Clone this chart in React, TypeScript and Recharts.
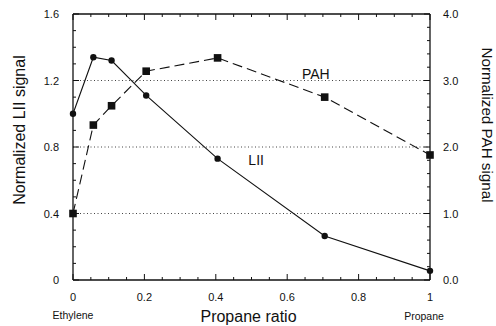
// @ts-nocheck
import { LineChart, Line, XAxis, YAxis, ReferenceLine, ReferenceDot, Label } from "recharts";

// propane fraction in the ethylene/propane fuel mix
const propaneRatio = [0, 0.057, 0.108, 0.205, 0.405, 0.705, 1];
const liiSignal = [1.0, 1.34, 1.32, 1.11, 0.73, 0.265, 0.055];
const pahSignal = [1.0, 2.33, 2.62, 3.14, 3.34, 2.75, 1.88];

const xMajor = [0, 0.2, 0.4, 0.6, 0.8, 1];
const xTicks = [0, 0.05, 0.1, 0.15, 0.2, 0.25, 0.3, 0.35, 0.4, 0.45, 0.5, 0.55, 0.6, 0.65, 0.7, 0.75, 0.8, 0.85, 0.9, 0.95, 1];
const liiMajor = [0, 0.4, 0.8, 1.2, 1.6];
const liiTicks = [0, 0.1, 0.2, 0.3, 0.4, 0.5, 0.6, 0.7, 0.8, 0.9, 1.0, 1.1, 1.2, 1.3, 1.4, 1.5, 1.6];
const pahMajor = [0, 1, 2, 3, 4];
const pahTicks = [0, 0.2, 0.4, 0.6, 0.8, 1, 1.2, 1.4, 1.6, 1.8, 2, 2.2, 2.4, 2.6, 2.8, 3, 3.2, 3.4, 3.6, 3.8, 4];
const gridLevels = [0.4, 0.8, 1.2];

const data = propaneRatio.map((x, i) => ({ x, lii: liiSignal[i], pah: pahSignal[i] }));

const INK = "#111";
const isIn = (arr, v) => arr.some((a) => Math.abs(a - v) < 1e-6);

const BottomTick = ({ x, y, payload }) => {
  const v = payload.value;
  const major = isIn(xMajor, v);
  const txt = v === 0 ? "0" : v === 1 ? "1" : v.toFixed(1);
  return (
    <g>
      <line x1={x} x2={x} y1={y} y2={y - (major ? 6 : 3)} stroke={INK} />
      {major && (
        <text x={x} y={y + 21} textAnchor="middle" fontSize={11} fill={INK}>{txt}</text>
      )}
      {v === 0 && <text x={x} y={y + 39} textAnchor="middle" fontSize={10.5} fill={INK}>Ethylene</text>}
      {v === 1 && <text x={x - 6} y={y + 40} textAnchor="middle" fontSize={10.5} fill={INK}>Propane</text>}
    </g>
  );
};

const TopTick = ({ x, y, payload }) => {
  const major = isIn(xMajor, payload.value);
  return <line x1={x} x2={x} y1={y} y2={y + (major ? 6 : 3)} stroke={INK} />;
};

const LeftTick = ({ x, y, payload }) => {
  const v = payload.value;
  const major = isIn(liiMajor, v);
  return (
    <g>
      <line x1={x} x2={x + (major ? 6 : 3)} y1={y} y2={y} stroke={INK} />
      {major && (
        <text x={x - 14} y={y + 4} textAnchor="end" fontSize={11} fill={INK}>{v === 0 ? "0" : v.toFixed(1)}</text>
      )}
    </g>
  );
};

const RightTick = ({ x, y, payload }) => {
  const v = payload.value;
  const major = isIn(pahMajor, v);
  return (
    <g>
      <line x1={x} x2={x - (major ? 6 : 3)} y1={y} y2={y} stroke={INK} />
      {major && (
        <text x={x + 13} y={y + 4} textAnchor="start" fontSize={11} fill={INK}>{v.toFixed(1)}</text>
      )}
    </g>
  );
};

const CircleDot = ({ cx, cy, index }) => <circle key={index} cx={cx} cy={cy} r={3.2} fill={INK} />;
const SquareDot = ({ cx, cy, index }) => <rect key={index} x={cx - 3.8} y={cy - 3.8} width={7.6} height={7.6} fill={INK} />;

const seriesTag = (text) => ({ viewBox }) => (
  <text x={viewBox.x} y={viewBox.y} textAnchor="middle" dominantBaseline="central" fontSize={14} fill={INK}>
    {text}
  </text>
);

export default function App() {
  return (
    <div style={{ position: "absolute", left: 0, top: 0, background: "#fff", fontFamily: "'Liberation Sans', Arial, sans-serif" }}>
      <LineChart width={496} height={326} data={data} margin={{ top: 0, right: 0, bottom: 0, left: 0 }}>
        <XAxis
          dataKey="x"
          type="number"
          domain={[0, 1]}
          ticks={xTicks}
          interval={0}
          tick={BottomTick}
          tickSize={0}
          tickMargin={0}
          height={46}
          axisLine={{ stroke: INK, strokeWidth: 1.3 }}
        >
          <Label
            content={({ viewBox }) => (
              <text x={viewBox.x + viewBox.width / 2 - 3} y={viewBox.y + 42} textAnchor="middle" fontSize={16} fill={INK}>
                Propane ratio
              </text>
            )}
          />
        </XAxis>
        <XAxis
          xAxisId="top"
          orientation="top"
          dataKey="x"
          type="number"
          domain={[0, 1]}
          ticks={xTicks}
          interval={0}
          tick={TopTick}
          tickSize={0}
          tickMargin={0}
          height={14}
          axisLine={{ stroke: INK, strokeWidth: 1.3 }}
        />
        <YAxis
          yAxisId="lii"
          domain={[0, 1.6]}
          ticks={liiTicks}
          interval={0}
          tick={LeftTick}
          tickSize={0}
          tickMargin={0}
          width={73}
          axisLine={{ stroke: INK, strokeWidth: 1.3 }}
        >
          <Label
            content={({ viewBox }) => {
              const cx = viewBox.x + 19;
              const cy = viewBox.y + viewBox.height / 2 - 17;
              return (
                <text x={cx} y={cy} transform={`rotate(-90 ${cx} ${cy})`} textAnchor="middle" dominantBaseline="central" fontSize={16} fill={INK}>
                  Normalized LII signal
                </text>
              );
            }}
          />
        </YAxis>
        <YAxis
          yAxisId="pah"
          orientation="right"
          domain={[0, 4]}
          ticks={pahTicks}
          interval={0}
          tick={RightTick}
          tickSize={0}
          tickMargin={0}
          width={66}
          axisLine={{ stroke: INK, strokeWidth: 1.3 }}
        >
          <Label
            content={({ viewBox }) => {
              const cx = viewBox.x + 57;
              const cy = viewBox.y + viewBox.height / 2 - 22;
              return (
                <text x={cx} y={cy} transform={`rotate(90 ${cx} ${cy})`} textAnchor="middle" dominantBaseline="central" fontSize={15.2} fill={INK}>
                  Normalized PAH signal
                </text>
              );
            }}
          />
        </YAxis>
        {gridLevels.map((g) => (
          <ReferenceLine key={g} yAxisId="lii" y={g} stroke="#444" strokeWidth={1} strokeDasharray="1 2.5" />
        ))}
        <Line
          yAxisId="lii"
          dataKey="lii"
          stroke={INK}
          strokeWidth={1.1}
          dot={CircleDot}
          activeDot={false}
          isAnimationActive={false}
        />
        <Line
          yAxisId="pah"
          dataKey="pah"
          stroke={INK}
          strokeWidth={1.1}
          strokeDasharray="10 5"
          dot={SquareDot}
          activeDot={false}
          isAnimationActive={false}
        />
        <ReferenceDot yAxisId="pah" x={0.68} y={3.1} r={0} stroke="none" fill="none">
          <Label content={seriesTag("PAH")} />
        </ReferenceDot>
        <ReferenceDot yAxisId="lii" x={0.513} y={0.72} r={0} stroke="none" fill="none">
          <Label content={seriesTag("LII")} />
        </ReferenceDot>
      </LineChart>
    </div>
  );
}
